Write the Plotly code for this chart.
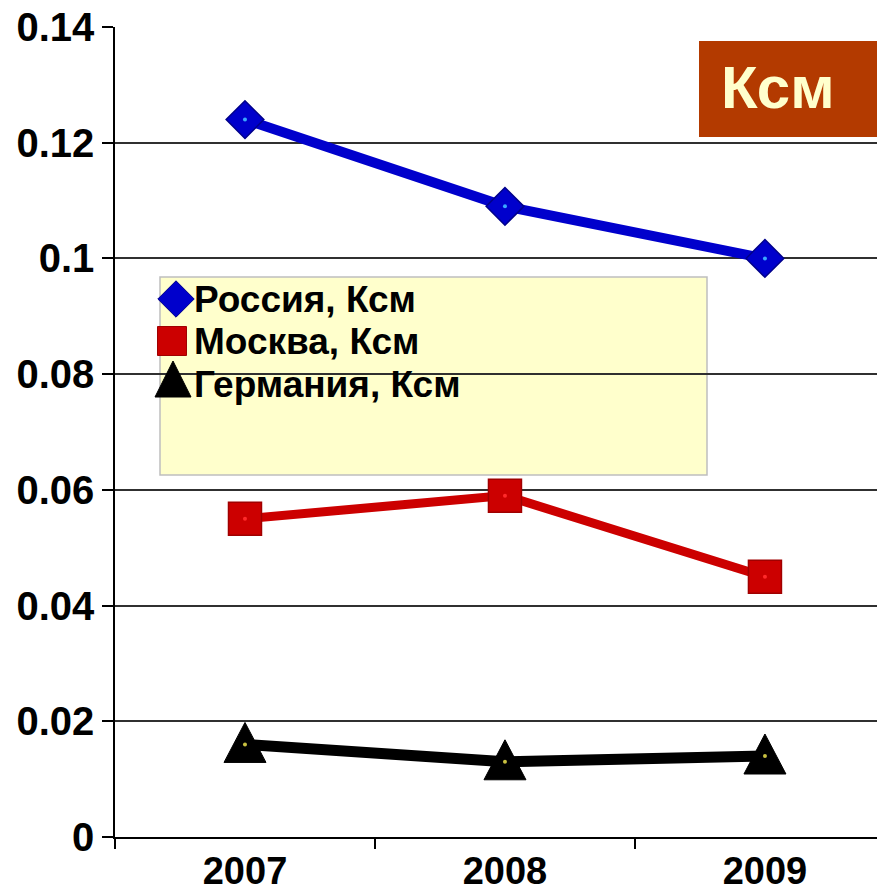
import plotly.graph_objects as go

years = ["2007", "2008", "2009"]
russia = [0.124, 0.109, 0.100]
moscow = [0.055, 0.059, 0.045]
germany = [0.016, 0.013, 0.014]
series_names = ["Россия, Ксм", "Москва, Ксм", "Германия, Ксм"]
y_ticks = [0, 0.02, 0.04, 0.06, 0.08, 0.1, 0.12, 0.14]
y_tick_labels = ["0", "0.02", "0.04", "0.06", "0.08", "0.1", "0.12", "0.14"]

FONT = "Liberation Sans, Arial, sans-serif"
W, H = 877, 891
ML, MR, MT, MB = 115, 0, 27, 54
PW, PH = W - ML - MR, H - MT - MB


def px_x(p):
    return (p - ML) / PW


def px_y(p):
    return (H - MB - p) / PH


# tall triangle outline in pixel offsets (y up)
TRI_PATH = "M-21,-18 L21,-18 L0,22 Z"
TRI_PATH_LEGEND = "M-18,-16 L18,-16 L0,20 Z"

styles = [
    dict(color="#0000CC", edge="#00008A", symbol="diamond", size=29, lw=10, dot="#3AA8FF"),
    dict(color="#CC0000", edge="#A00000", symbol="square", size=33, lw=9, dot="#FF2A2A"),
    dict(color="#000000", edge="#000000", symbol="triangle-up", size=37, lw=11, dot="#C8C040"),
]

fig = go.Figure()
for vals, st in zip([russia, moscow, germany], styles):
    is_tri = st["symbol"] == "triangle-up"
    fig.add_trace(go.Scatter(
        x=years, y=vals, mode="lines" if is_tri else "lines+markers", showlegend=False,
        line=dict(color=st["color"], width=st["lw"]),
        marker=dict(symbol=st["symbol"], size=st["size"], color=st["color"],
                    line=dict(color=st["edge"], width=1.5)),
        hoverinfo="skip",
    ))
    if is_tri:
        for i, v in enumerate(vals):
            fig.add_shape(type="path", xref="x", yref="y", layer="between",
                          xsizemode="pixel", ysizemode="pixel",
                          xanchor=i, yanchor=v, path=TRI_PATH,
                          fillcolor=st["color"], line=dict(color=st["edge"], width=1))
    fig.add_trace(go.Scatter(
        x=years, y=vals, mode="markers", showlegend=False,
        marker=dict(symbol="circle", size=4, color=st["dot"]),
        hoverinfo="skip",
    ))

# legend box drawn by hand
legend_rows = [299, 341, 384]
legend_marker_x = [176, 172, 173]
legend_marker_y = [299, 341, 385]
legend_marker_size = [28, 29, 32]
for i, (name, st) in enumerate(zip(series_names, styles)):
    if st["symbol"] == "triangle-up":
        fig.add_shape(type="path", xref="paper", yref="paper",
                      xsizemode="pixel", ysizemode="pixel",
                      xanchor=px_x(legend_marker_x[i]), yanchor=px_y(legend_marker_y[i] - 4),
                      path=TRI_PATH_LEGEND, fillcolor=st["color"],
                      line=dict(color=st["edge"], width=1))
    else:
        fig.add_trace(go.Scatter(
            x=[px_x(legend_marker_x[i])], y=[px_y(legend_marker_y[i])],
            xaxis="x2", yaxis="y2", mode="markers", showlegend=False,
            marker=dict(symbol=st["symbol"], size=legend_marker_size[i], color=st["color"],
                        line=dict(color=st["edge"], width=1)),
            hoverinfo="skip",
        ))
    fig.add_annotation(
        xref="paper", yref="paper", x=px_x(192), y=px_y(legend_rows[i]),
        xanchor="left", yanchor="middle", text=name, showarrow=False,
        font=dict(family=FONT, size=37, color="#000000", weight="bold"),
    )

fig.add_shape(type="rect", xref="paper", yref="paper", layer="below",
              x0=px_x(160), x1=px_x(707), y0=px_y(475), y1=px_y(277),
              fillcolor="#FFFFCC", line=dict(color="#BEBEBE", width=1.5))

# title badge
fig.add_shape(type="rect", xref="paper", yref="paper",
              x0=px_x(699), x1=px_x(880), y0=px_y(137), y1=px_y(41),
              fillcolor="#B33A00", line=dict(width=0))
fig.add_annotation(
    xref="paper", yref="paper", x=px_x(778), y=px_y(87),
    xanchor="center", yanchor="middle", text="Ксм", showarrow=False,
    font=dict(family=FONT, size=60, color="#FFFFCC", weight="bold"),
)

fig.update_layout(
    width=W, height=H,
    margin=dict(l=ML, r=MR, t=MT, b=MB, autoexpand=False),
    paper_bgcolor="white", plot_bgcolor="white",
    font=dict(family=FONT, color="#000000"),
    xaxis=dict(
        type="category", range=[-0.5, 2.431], tickson="boundaries",
        ticks="outside", ticklen=10, tickwidth=1.5, tickcolor="#000000",
        showline=True, linecolor="#000000", linewidth=1.5,
        showgrid=False, zeroline=False, automargin=False,
        tickfont=dict(family=FONT, size=38, color="#000000", weight="bold"),
    ),
    yaxis=dict(
        range=[0, 0.14], tickvals=y_ticks, ticktext=y_tick_labels,
        ticks="outside", ticklen=11, tickwidth=1.5, tickcolor="#000000",
        showline=True, linecolor="#000000", linewidth=1.5,
        showgrid=True, gridcolor="#303030", gridwidth=1.5, zeroline=False,
        automargin=False,
        tickfont=dict(family=FONT, size=40, color="#000000", weight="bold"),
    ),
    xaxis2=dict(overlaying="x", range=[0, 1], visible=False, fixedrange=True),
    yaxis2=dict(overlaying="y", range=[0, 1], visible=False, fixedrange=True),
)

fig.write_html("out.html")
